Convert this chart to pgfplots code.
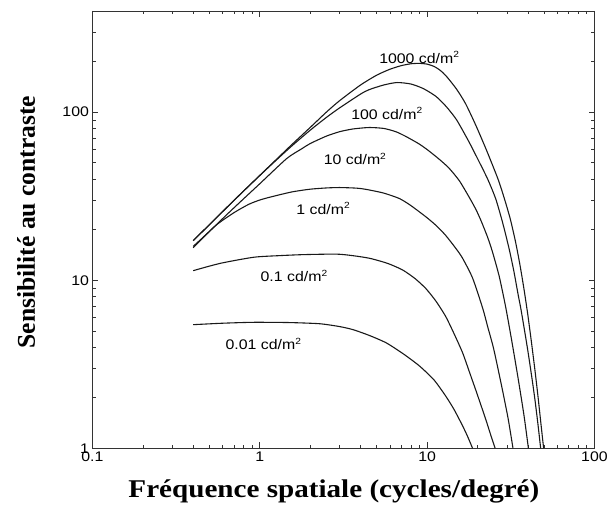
\documentclass[border=0pt]{standalone}
\usepackage{fontspec}
\usepackage{pgfplots}
\pgfplotsset{compat=1.18}
\newfontfamily\sanslab{Liberation Sans}[FakeStretch=1.14]
\newfontfamily\serifx{Liberation Serif}[FakeStretch=1.14]
\newfontfamily\serify{Liberation Serif}
\newcommand{\cd}{cd/m\raisebox{0.42em}{\fontsize{9}{9}\selectfont 2}}
\pgfplotsset{curve/.style={black!90, solid, line width=1.1pt, mark=none, smooth, tension=0.4}}

\begin{document}
\begin{tikzpicture}
\begin{axis}[
    xmode=log, ymode=log,
    scale only axis, width=505pt, height=440pt,
    xmin=0.1, xmax=100, ymin=1, ymax=400,
    log ticks with fixed point,
    /pgf/number format/assume math mode=true,
    tick label style={font=\sanslab\fontsize{14}{16}\selectfont},
    major tick length=6pt, minor tick length=3.5pt,
    axis line style={black!80, line width=0.8pt},
    every tick/.style={black!80, line width=0.6pt},
    xlabel={Fréquence spatiale (cycles/degré)},
    xlabel style={font=\serifx\bfseries\fontsize{25.7}{30}\selectfont,
        at={(axis description cs:0.481,-0.1114)}, anchor=base},
    ylabel={Sensibilité au contraste},
    ylabel style={font=\serify\bfseries\fontsize{25.7}{30}\selectfont,
        at={(axis description cs:-0.1149,0.517)}, anchor=base},
]

% 1000 cd/m2
\addplot[curve] coordinates {
(0.4,17.2)(0.5,21.4)(0.7,29.8)(1,42)(1.5,62)(2,81)(2.5,100)(3,117)(4,145)(5,166)
(6,180)(7,189)(8,194)(9,195)(10,193)(11,187)(12,177)(13,164)(15,137)(17,112)
(19.6,83)(22.7,59)(26.4,40.5)(28.2,33.3)(30,27.2)(31.6,22.6)(33.9,16.6)(36,12.1)
(38,8.75)(40,6.2)(42,4.3)(44,2.97)(46,2.03)(48,1.37)(49.7,1)
};
% 100 cd/m2
\addplot[curve] coordinates {
(0.4,17.2)(0.5,21.4)(0.7,29.8)(1,42)(1.5,61)(2,78)(2.5,93)(3,106)(4,128)(4.5,136)
(5.5,145)(6.6,150)(8,147)(9.5,138)(11.3,124)(13,108)(15,90)(17.8,66.5)(20,53)
(23,40)(25.7,30.5)(28.2,22.2)(30.9,15.4)(33,11.3)(35,8.2)(36.3,6.8)(38,5.2)
(40,3.8)(42,2.75)(44,1.98)(46,1.38)(47.7,1)
};
% 10 cd/m2
\addplot[curve] coordinates {
(0.4,15.9)(0.5,19.5)(0.636,24.6)(0.8,30.5)(1,37.5)(1.45,53)(1.78,60.5)(2,65)
(2.5,72)(3,76.5)(3.6,79.4)(4.5,81)(5.5,80)(6.5,76.5)(7.5,71.5)(9,64.5)(10.2,59)
(11.8,52.5)(13.5,46.5)(15.6,39)(17.9,31)(19.6,26.3)(21,22.6)(23,18)(24.6,14.7)
(27,10.5)(29.5,6.9)(32,4.4)(35,2.6)(38,1.55)(40.3,1)
};
% 1 cd/m2
\addplot[curve] coordinates {
(0.4,15.6)(0.54,21)(0.7,25.2)(0.86,28.3)(1,30)(1.15,31.2)(1.55,33.5)(2,34.8)
(2.5,35.4)(3,35.6)(3.8,35.3)(4.33,34.7)(5.5,33)(6.84,30.6)(8,27.8)(9.85,23.8)
(11.3,21.2)(12.9,18.5)(14.9,15.4)(16.3,13.5)(18.7,10.3)(21.5,6.8)(23,5.3)
(25,3.9)(28,2.3)(30.5,1.5)(32.6,1)
};
% 0.1 cd/m2
\addplot[curve] coordinates {
(0.4,11.4)(0.58,12.6)(0.92,13.7)(1.3,14.0)(1.82,14.2)(2.87,14.3)(3.6,14.0)
(4.54,13.5)(5.8,12.6)(7.15,11.5)(8.5,10.2)(9.85,8.9)(11.3,7.5)(12.9,6.1)
(14.5,4.8)(16.3,3.7)(18,2.8)(19.6,2.2)(21,1.8)(22.4,1.49)(24,1.2)(25.5,1)
};
% 0.01 cd/m2
\addplot[curve] coordinates {
(0.4,5.44)(0.6,5.55)(0.92,5.62)(1.5,5.6)(2.28,5.51)(3,5.3)(3.61,5.08)(4.5,4.7)
(5.7,4.24)(7.2,3.65)(9,3.09)(11,2.55)(12.9,2.05)(14.5,1.7)(16.3,1.36)
(17.5,1.17)(18.7,1)
};

\begin{scope}[every node/.style={font=\sanslab\fontsize{14}{16}\selectfont}]
\node at (axis cs:8.96,211) {1000 \cd};
\node at (axis cs:5.74,98.6) {100 \cd};
\node at (axis cs:3.7,52.7) {10 \cd};
\node at (axis cs:2.39,26.7) {1 \cd};
\node at (axis cs:1.6,10.6) {0.1 \cd};
\node at (axis cs:1.05,4.18) {0.01 \cd};
\end{scope}
\end{axis}
\path (-93pt,-57pt) rectangle (518pt,451pt);
\end{tikzpicture}
\end{document}
